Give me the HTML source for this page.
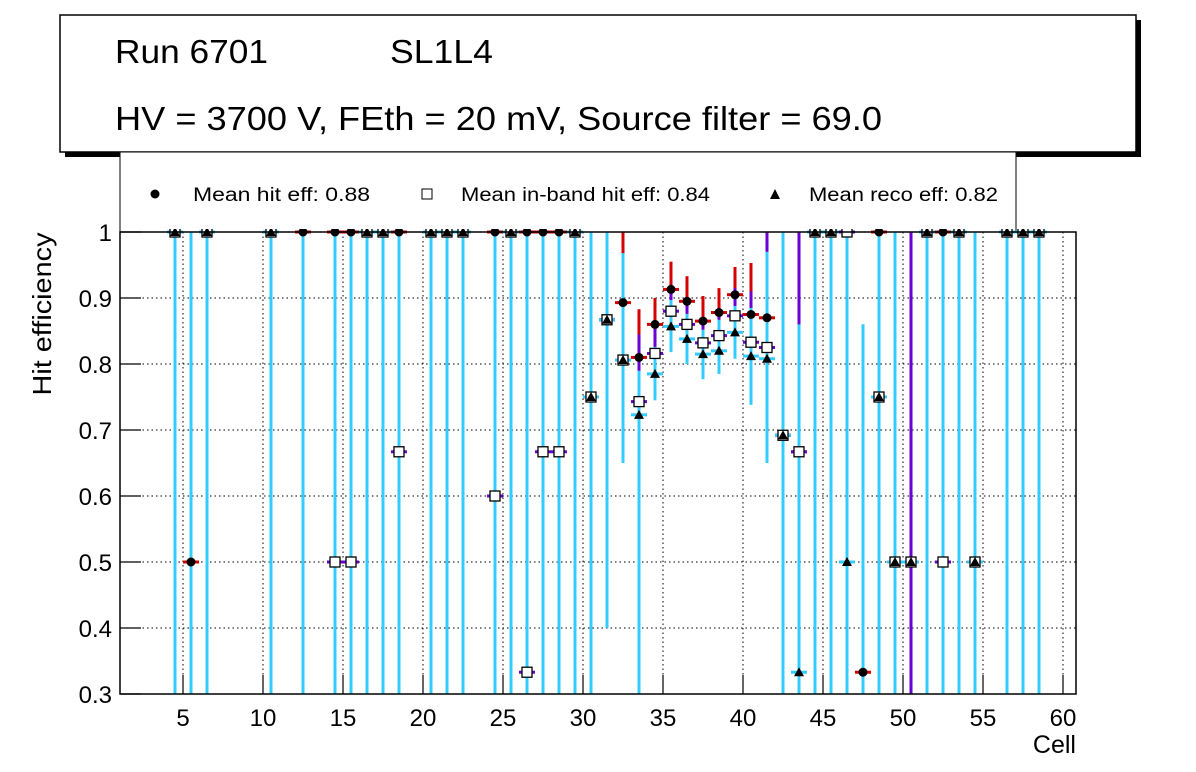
<!DOCTYPE html>
<html><head><meta charset="utf-8"><style>
html,body{margin:0;padding:0;background:#fff;overflow:hidden;width:1196px;height:772px;}
svg{display:block;font-family:"Liberation Sans",sans-serif;}
</style></head><body>
<svg id="c" width="1196" height="772" viewBox="0 0 1196 772">
<rect x="0" y="0" width="1196" height="772" fill="#fff"/>
<rect x="65" y="20" width="1076" height="137" fill="#000"/>
<rect x="60" y="15" width="1076" height="137" fill="#fff" stroke="#000" stroke-width="1.5"/>
<text x="115" y="63" font-size="33" textLength="153" lengthAdjust="spacingAndGlyphs">Run 6701</text>
<text x="390" y="63" font-size="33" textLength="103" lengthAdjust="spacingAndGlyphs">SL1L4</text>
<text x="115" y="130" font-size="33" textLength="767" lengthAdjust="spacingAndGlyphs">HV = 3700 V, FEth = 20 mV, Source filter = 69.0</text>
<g>
<rect x="120" y="152" width="896" height="80" fill="#fff" stroke="#000" stroke-width="1"/>
<circle cx="155" cy="194" r="4.5" fill="#000"/>
<text x="193" y="201" font-size="19" textLength="177" lengthAdjust="spacingAndGlyphs">Mean hit  eff: 0.88</text>
<rect x="422" y="189" width="10" height="10" fill="#fff" stroke="#000"/>
<text x="461" y="201" font-size="19" textLength="249" lengthAdjust="spacingAndGlyphs">Mean in-band hit eff: 0.84</text>
<polygon points="775,189 770,199 780,199" fill="#000"/>
<text x="809" y="201" font-size="19" textLength="189" lengthAdjust="spacingAndGlyphs">Mean reco eff: 0.82</text>
</g>
<defs><clipPath id="pc"><rect x="120" y="229" width="956" height="465"/></clipPath></defs>
<g id="grid"></g>
<g id="marks" clip-path="url(#pc)"></g>
<rect x="120" y="232" width="956" height="462" fill="none" stroke="#000" stroke-width="1.5"/>
<g id="axes"></g>
<text x="51" y="314" font-size="26" text-anchor="middle" textLength="163" lengthAdjust="spacingAndGlyphs" transform="rotate(-90 51 314)">Hit efficiency</text>
<text x="1076" y="753" font-size="25" text-anchor="end">Cell</text>
</svg>
<script>
const cells   =[4.5,5.5,6.5,10.5,12.5,14.5,15.5,16.5,17.5,18.5,20.5,21.5,22.5,24.5,25.5,26.5,27.5,28.5,29.5,30.5,31.5,32.5,33.5,34.5,35.5,36.5,37.5,38.5,39.5,40.5,41.5,42.5,43.5,44.5,45.5,46.5,47.5,48.5,49.5,50.5,51.5,52.5,53.5,54.5,56.5,57.5,58.5];
const hit     =[1,0.5,1,1,1,1,1,1,1,1,1,1,1,1,1,1,1,1,1,0.75,0.867,0.893,0.81,0.86,0.913,0.895,0.865,0.878,0.905,0.875,0.87,0.692,0.667,1,1,1,0.333,1,0.5,0.5,1,1,1,0.5,1,1,1];
const hitHi   =[1,1,1,1,1,1,1,1,1,1,1,1,1,1,1,1,1,1,1,1,1,1,0.883,0.90,0.955,0.933,0.903,0.915,0.947,0.953,1,1,1,1,1,1,0.86,1,1,1,1,1,1,1,1,1,1];
const band    =[1,0,1,1,0,0.5,0.5,1,1,0.667,1,1,1,0.6,1,0.333,0.667,0.667,1,0.75,0.867,0.806,0.743,0.816,0.88,0.86,0.832,0.843,0.873,0.833,0.825,0.692,0.667,1,1,1,0,0.75,0.5,0.5,1,0.5,1,0.5,1,1,1];
const bandHi  =[1,1,1,1,1,1,1,1,1,1,1,1,1,1,1,1,1,1,1,1,1,0.968,0.845,0.856,0.92,0.892,0.871,0.885,0.915,0.91,1,1,1,1,1,1,0.86,1,1,1,1,1,1,1,1,1,1];
const reco    =[1,0,1,1,0,0,0,1,1,0,1,1,1,0,1,0,0,0,1,0.75,0.867,0.806,0.723,0.785,0.857,0.838,0.815,0.82,0.848,0.812,0.808,0.692,0.333,1,1,0.5,0,0.75,0.5,0.5,1,0,1,0.5,1,1,1];
const recoLo  =[0,0,0,0,0,0,0,0,0,0,0,0,0,0,0,0,0,0,0,0,0.40,0.65,0,0.745,0.818,0.80,0.777,0.785,0.808,0.738,0.65,0,0,0,0,0,0,0,0,0,0,0,0,0,0,0,0];
const recoHi  =[1,1,1,1,1,1,1,1,1,1,1,1,1,1,1,1,1,1,1,1,1,0.968,0.79,0.826,0.897,0.876,0.852,0.867,0.888,0.885,0.97,1,0.86,1,1,1,0.86,1,1,1,1,1,1,1,1,1,1];
const purpleFull=[50.5];
const xTicks=[5,10,15,20,25,30,35,40,45,50,55,60];
const yTicks=[0.3,0.4,0.5,0.6,0.7,0.8,0.9,1];
const yLabels=["0.3","0.4","0.5","0.6","0.7","0.8","0.9","1"];

const NS="http://www.w3.org/2000/svg";
const X=v=>103+16*v;
const Y=v=>232+(1-v)*660;
function mk(tag,attrs,parent){const e=document.createElementNS(NS,tag);for(const k in attrs)e.setAttribute(k,attrs[k]);parent.appendChild(e);return e;}
const grid=document.getElementById('grid'),marks=document.getElementById('marks'),axes=document.getElementById('axes');

xTicks.forEach((t,i)=>{
  const g=mk('line',{x1:X(t),x2:X(t),y1:232,y2:694,stroke:'#000','stroke-width':1,'stroke-dasharray':'1.5,3'},grid);
  
  
  const tk=mk('line',{x1:X(t),x2:X(t),y1:675,y2:694,stroke:'#000','stroke-width':1.2},axes);
  
  
  const tx=mk('text',{x:X(t),y:726,'font-size':24,'text-anchor':'middle'},axes);
  tx.textContent=String(t);
  
  
});
yTicks.forEach((t,i)=>{
  const g=mk('line',{x1:120,x2:1076,y1:Y(t),y2:Y(t),stroke:'#000','stroke-width':1,'stroke-dasharray':'1.5,3'},grid);
  
  
  const tk=mk('line',{x1:120,x2:141,y1:Y(t),y2:Y(t),stroke:'#000','stroke-width':1.2},axes);
  
  
  const tx=mk('text',{x:112,y:Y(t)+9,'font-size':24,'text-anchor':'end'},axes);
  tx.textContent=yLabels[i];
  
  
});

const RED='#d40000',PUR='#6a00d0',CY='#33ccff';
cells.forEach((c,i)=>{
  const x=X(c);
  mk('line',{x1:x,x2:x,y1:Y(hitHi[i]),y2:Y(Math.min(hit[i],band[i]||hit[i])),stroke:RED,'stroke-width':3},marks);
  mk('line',{x1:x-8,x2:x+8,y1:Y(hit[i]),y2:Y(hit[i]),stroke:RED,'stroke-width':3},marks);
  const pLo=purpleFull.includes(c)?0:Math.max(band[i],recoHi[i]);
  mk('line',{x1:x,x2:x,y1:Y(bandHi[i]),y2:Y(Math.min(pLo,bandHi[i])),stroke:PUR,'stroke-width':3},marks);
  mk('line',{x1:x-8,x2:x+8,y1:Y(band[i]),y2:Y(band[i]),stroke:PUR,'stroke-width':3},marks);
  if(!purpleFull.includes(c)){
    mk('line',{x1:x,x2:x,y1:Y(recoHi[i]),y2:Y(recoLo[i]),stroke:CY,'stroke-width':3},marks);
  }
  mk('line',{x1:x-8,x2:x+8,y1:Y(reco[i]),y2:Y(reco[i]),stroke:CY,'stroke-width':3},marks);
});
cells.forEach((c,i)=>{
  const x=X(c);
  const h=mk('circle',{cx:x,cy:Y(hit[i]),r:4.5,fill:'#000'},marks);
  
  
  const b=mk('rect',{x:x-5,y:Y(band[i])-5,width:10,height:10,fill:'#fff',stroke:'#000','stroke-width':1.3},marks);
  
  
  const ty=Y(reco[i]);
  const r=mk('polygon',{points:`${x},${ty-5} ${x-5},${ty+4} ${x+5},${ty+4}`,fill:'#000'},marks);
  
  
});
</script>
</body></html>
